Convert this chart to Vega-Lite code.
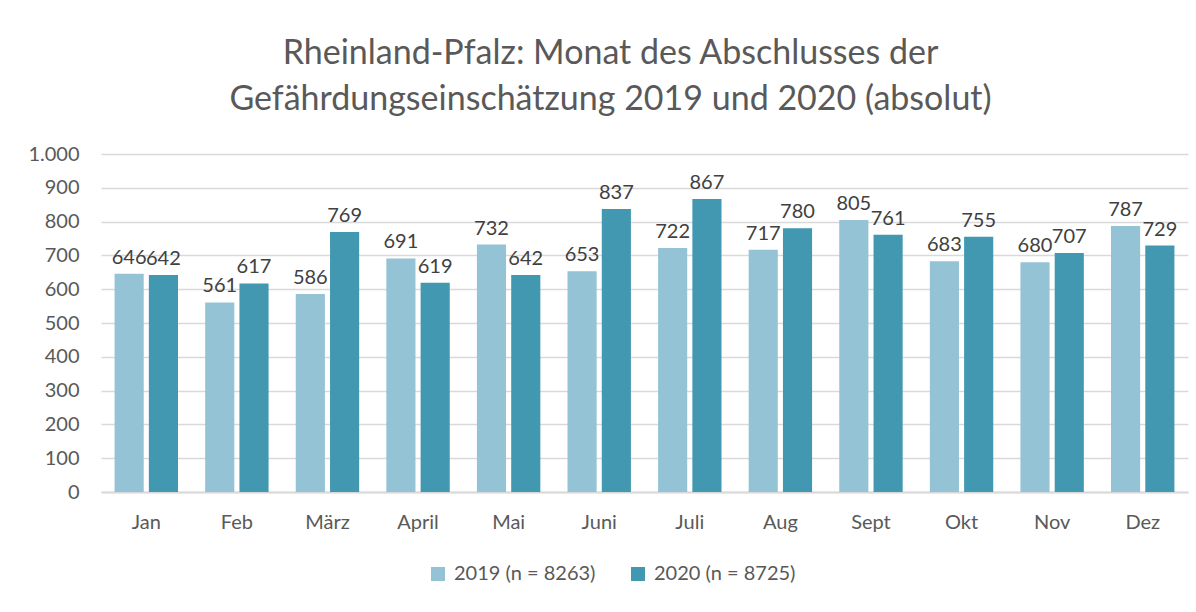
{
  "$schema": "https://vega.github.io/schema/vega-lite/v6.json",
  "autosize": "none",
  "width": 1087,
  "height": 338,
  "padding": {"left": 101, "top": 154, "right": 8, "bottom": 120},
  "background": "white",
  "title": {
    "text": ["Rheinland-Pfalz: Monat des Abschlusses der", "Gefährdungseinschätzung 2019 und 2020 (absolut)"],
    "font": "Lato",
    "fontSize": 34,
    "fontWeight": "normal",
    "color": "#595959",
    "anchor": "middle",
    "frame": "group",
    "dx": -34,
    "offset": 27,
    "lineHeight": 46
  },
  "data": {
    "values": [
      {"monat": "Jan", "jahr": "2019 (n = 8263)", "wert": 646},
      {"monat": "Feb", "jahr": "2019 (n = 8263)", "wert": 561},
      {"monat": "März", "jahr": "2019 (n = 8263)", "wert": 586},
      {"monat": "April", "jahr": "2019 (n = 8263)", "wert": 691},
      {"monat": "Mai", "jahr": "2019 (n = 8263)", "wert": 732},
      {"monat": "Juni", "jahr": "2019 (n = 8263)", "wert": 653},
      {"monat": "Juli", "jahr": "2019 (n = 8263)", "wert": 722},
      {"monat": "Aug", "jahr": "2019 (n = 8263)", "wert": 717},
      {"monat": "Sept", "jahr": "2019 (n = 8263)", "wert": 805},
      {"monat": "Okt", "jahr": "2019 (n = 8263)", "wert": 683},
      {"monat": "Nov", "jahr": "2019 (n = 8263)", "wert": 680},
      {"monat": "Dez", "jahr": "2019 (n = 8263)", "wert": 787},
      {"monat": "Jan", "jahr": "2020 (n = 8725)", "wert": 642},
      {"monat": "Feb", "jahr": "2020 (n = 8725)", "wert": 617},
      {"monat": "März", "jahr": "2020 (n = 8725)", "wert": 769},
      {"monat": "April", "jahr": "2020 (n = 8725)", "wert": 619},
      {"monat": "Mai", "jahr": "2020 (n = 8725)", "wert": 642},
      {"monat": "Juni", "jahr": "2020 (n = 8725)", "wert": 837},
      {"monat": "Juli", "jahr": "2020 (n = 8725)", "wert": 867},
      {"monat": "Aug", "jahr": "2020 (n = 8725)", "wert": 780},
      {"monat": "Sept", "jahr": "2020 (n = 8725)", "wert": 761},
      {"monat": "Okt", "jahr": "2020 (n = 8725)", "wert": 755},
      {"monat": "Nov", "jahr": "2020 (n = 8725)", "wert": 707},
      {"monat": "Dez", "jahr": "2020 (n = 8725)", "wert": 729}
    ]
  },
  "encoding": {
    "x": {
      "field": "monat",
      "type": "nominal",
      "sort": ["Jan", "Feb", "März", "April", "Mai", "Juni", "Juli", "Aug", "Sept", "Okt", "Nov", "Dez"],
      "scale": {"paddingInner": 0.3, "paddingOuter": 0.15},
      "axis": {
        "title": null,
        "labelAngle": 0,
        "labelFont": "Lato",
        "labelFontSize": 20,
        "labelColor": "#595959",
        "labelPadding": 20,
        "ticks": false,
        "domainColor": "#D9D9D9",
        "domainWidth": 2
      }
    },
    "xOffset": {
      "field": "jahr",
      "type": "nominal",
      "scale": {"paddingInner": 0.15, "paddingOuter": 0}
    },
    "y": {
      "field": "wert",
      "type": "quantitative",
      "scale": {"domain": [0, 1000], "nice": false},
      "axis": {
        "title": null,
        "values": [0, 100, 200, 300, 400, 500, 600, 700, 800, 900, 1000],
        "labelExpr": "datum.value == 1000 ? '1.000' : datum.label",
        "labelFont": "Lato",
        "labelFontSize": 20,
        "labelColor": "#595959",
        "labelPadding": 22,
        "ticks": false,
        "domain": false,
        "gridColor": "#D9D9D9",
        "gridWidth": 1.5
      }
    }
  },
  "layer": [
    {
      "mark": {"type": "bar"},
      "encoding": {
        "color": {
          "field": "jahr",
          "type": "nominal",
          "scale": {"domain": ["2019 (n = 8263)", "2020 (n = 8725)"], "range": ["#93C3D4", "#4198B0"]},
          "legend": {
            "title": null,
            "orient": "none",
            "legendX": 327,
            "legendY": 410,
            "direction": "horizontal",
            "symbolType": "square",
            "symbolSize": 196,
            "symbolStrokeWidth": 0,
            "labelFont": "Lato",
            "labelFontSize": 20,
            "labelColor": "#595959",
            "columnPadding": 32,
            "labelOffset": 6
          }
        }
      }
    },
    {
      "mark": {"type": "text", "baseline": "bottom", "dy": -6, "font": "Lato", "fontSize": 20, "color": "#404040"},
      "encoding": {
        "text": {"field": "wert", "type": "quantitative"}
      }
    }
  ],
  "config": {
    "view": {"stroke": null}
  }
}
